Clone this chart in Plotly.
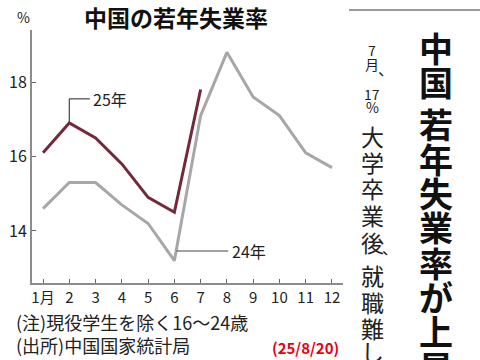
import plotly.graph_objects as go

months = list(range(1, 13))
month_labels = ["1月", "2", "3", "4", "5", "6", "7", "8", "9", "10", "11", "12"]
rate_2024 = [14.6, 15.3, 15.3, 14.7, 14.2, 13.2, 17.1, 18.8, 17.6, 17.1, 16.1, 15.7]
rate_2025 = [16.1, 16.9, 16.5, 15.8, 14.9, 14.5, 17.8]
y_ticks = [14, 16, 18]

W, H = 480, 360
FONT = "Noto Sans CJK JP"


def px(x):
    return x / W


def py(y):
    return 1 - y / H


fig = go.Figure()
fig.add_trace(go.Scatter(x=months, y=rate_2024, mode="lines",
                         line=dict(color="#a7a7a7", width=3), hoverinfo="skip"))
fig.add_trace(go.Scatter(x=months[:len(rate_2025)], y=rate_2025, mode="lines",
                         line=dict(color="#74293b", width=3), hoverinfo="skip"))

ann = []
shapes = []

# leader lines + series labels
shapes.append(dict(type="line", xref="x", yref="y", x0=2, y0=16.92, x1=2, y1=17.55,
                   line=dict(color="#444", width=1.2)))
shapes.append(dict(type="line", xref="x", yref="y", x0=2, y0=17.55, x1=2.78, y1=17.55,
                   line=dict(color="#444", width=1.2)))
ann.append(dict(x=2.82, y=17.55, xref="x", yref="y", text="25年", showarrow=False,
                xanchor="left", yanchor="middle", font=dict(size=16, color="#222", family=FONT)))
shapes.append(dict(type="line", xref="x", yref="y", x0=6.08, y0=13.46, x1=8.05, y1=13.46,
                   line=dict(color="#444", width=1.2)))
ann.append(dict(x=8.1, y=13.46, xref="x", yref="y", text="24年", showarrow=False,
                xanchor="left", yanchor="middle", font=dict(size=16, color="#222", family=FONT)))

# title and unit
ann.append(dict(x=px(176), y=py(17), xref="paper", yref="paper", text="<b>中国の若年失業率</b>",
                showarrow=False, xanchor="center", yanchor="middle",
                font=dict(size=23, color="#111", family=FONT)))
ann.append(dict(x=px(23), y=py(17), xref="paper", yref="paper", text="%",
                showarrow=False, xanchor="center", yanchor="middle",
                font=dict(size=14, color="#222", family=FONT)))

# notes
ann.append(dict(x=px(14), y=py(322), xref="paper", yref="paper", text="(注)現役学生を除く16〜24歳",
                showarrow=False, xanchor="left", yanchor="middle",
                font=dict(size=18, color="#222", family=FONT)))
ann.append(dict(x=px(14), y=py(345), xref="paper", yref="paper", text="(出所)中国国家統計局",
                showarrow=False, xanchor="left", yanchor="middle",
                font=dict(size=18, color="#222", family=FONT)))
ann.append(dict(x=px(305), y=py(347), xref="paper", yref="paper", text="<b>(25/8/20)</b>",
                showarrow=False, xanchor="center", yanchor="middle",
                font=dict(size=15, color="#e60012", family=FONT)))

# headline (vertical)
big = [("中", 48), ("国", 82), ("若", 123), ("年", 158), ("失", 192), ("業", 226),
       ("率", 262), ("が", 296), ("上", 330), ("昇", 366)]
for ch, yc in big:
    ann.append(dict(x=px(436), y=py(yc), xref="paper", yref="paper", text="<b>" + ch + "</b>",
                    showarrow=False, xanchor="center", yanchor="middle",
                    font=dict(size=34, color="#111", family=FONT)))

small = [("7", 50, 14), ("月", 64, 14), ("17", 94, 14), ("%", 107, 14),
         ("大", 136, 23), ("学", 162, 23), ("卒", 188, 23), ("業", 215, 23), ("後", 242, 23),
         ("就", 275, 23), ("職", 302, 23), ("難", 328, 23), ("し", 351, 23), ("く", 373, 23)]
for ch, yc, sz in small:
    ann.append(dict(x=px(372), y=py(yc), xref="paper", yref="paper", text=ch,
                    showarrow=False, xanchor="center", yanchor="middle",
                    font=dict(size=sz, color="#222", family=FONT)))
for xc, yc in [(386, 68), (390, 247)]:
    ann.append(dict(x=px(xc), y=py(yc), xref="paper", yref="paper", text="、",
                    showarrow=False, xanchor="center", yanchor="middle",
                    font=dict(size=16, color="#222", family=FONT)))

shapes.append(dict(type="line", xref="paper", yref="paper", x0=px(349), y0=py(10), x1=1, y1=py(10),
                   line=dict(color="#9a9a9a", width=2)))

fig.update_layout(
    width=W, height=H, margin=dict(l=0, r=0, t=0, b=0),
    paper_bgcolor="white", plot_bgcolor="white", showlegend=False,
    annotations=ann, shapes=shapes,
    xaxis=dict(domain=[px(32), px(343)], range=[0.58, 12.42], tickmode="array",
               tickvals=months, ticktext=month_labels, showgrid=False, zeroline=False,
               showline=True, linecolor="#8c8c8c", linewidth=2, ticks="inside", ticklen=4,
               tickcolor="#666", tickwidth=1, tickfont=dict(size=15, color="#222", family=FONT)),
    yaxis=dict(domain=[py(283), py(30)], range=[12.6, 19.4], tickmode="array",
               tickvals=y_ticks, showgrid=False, zeroline=False,
               showline=True, linecolor="#8c8c8c", linewidth=2, ticks="inside", ticklen=4,
               tickcolor="#666", tickwidth=1, tickfont=dict(size=16, color="#222", family=FONT)),
)

fig.write_html("out.html", config={"displayModeBar": False},
               post_script="document.body.style.margin='0';document.body.style.overflow='hidden';")
